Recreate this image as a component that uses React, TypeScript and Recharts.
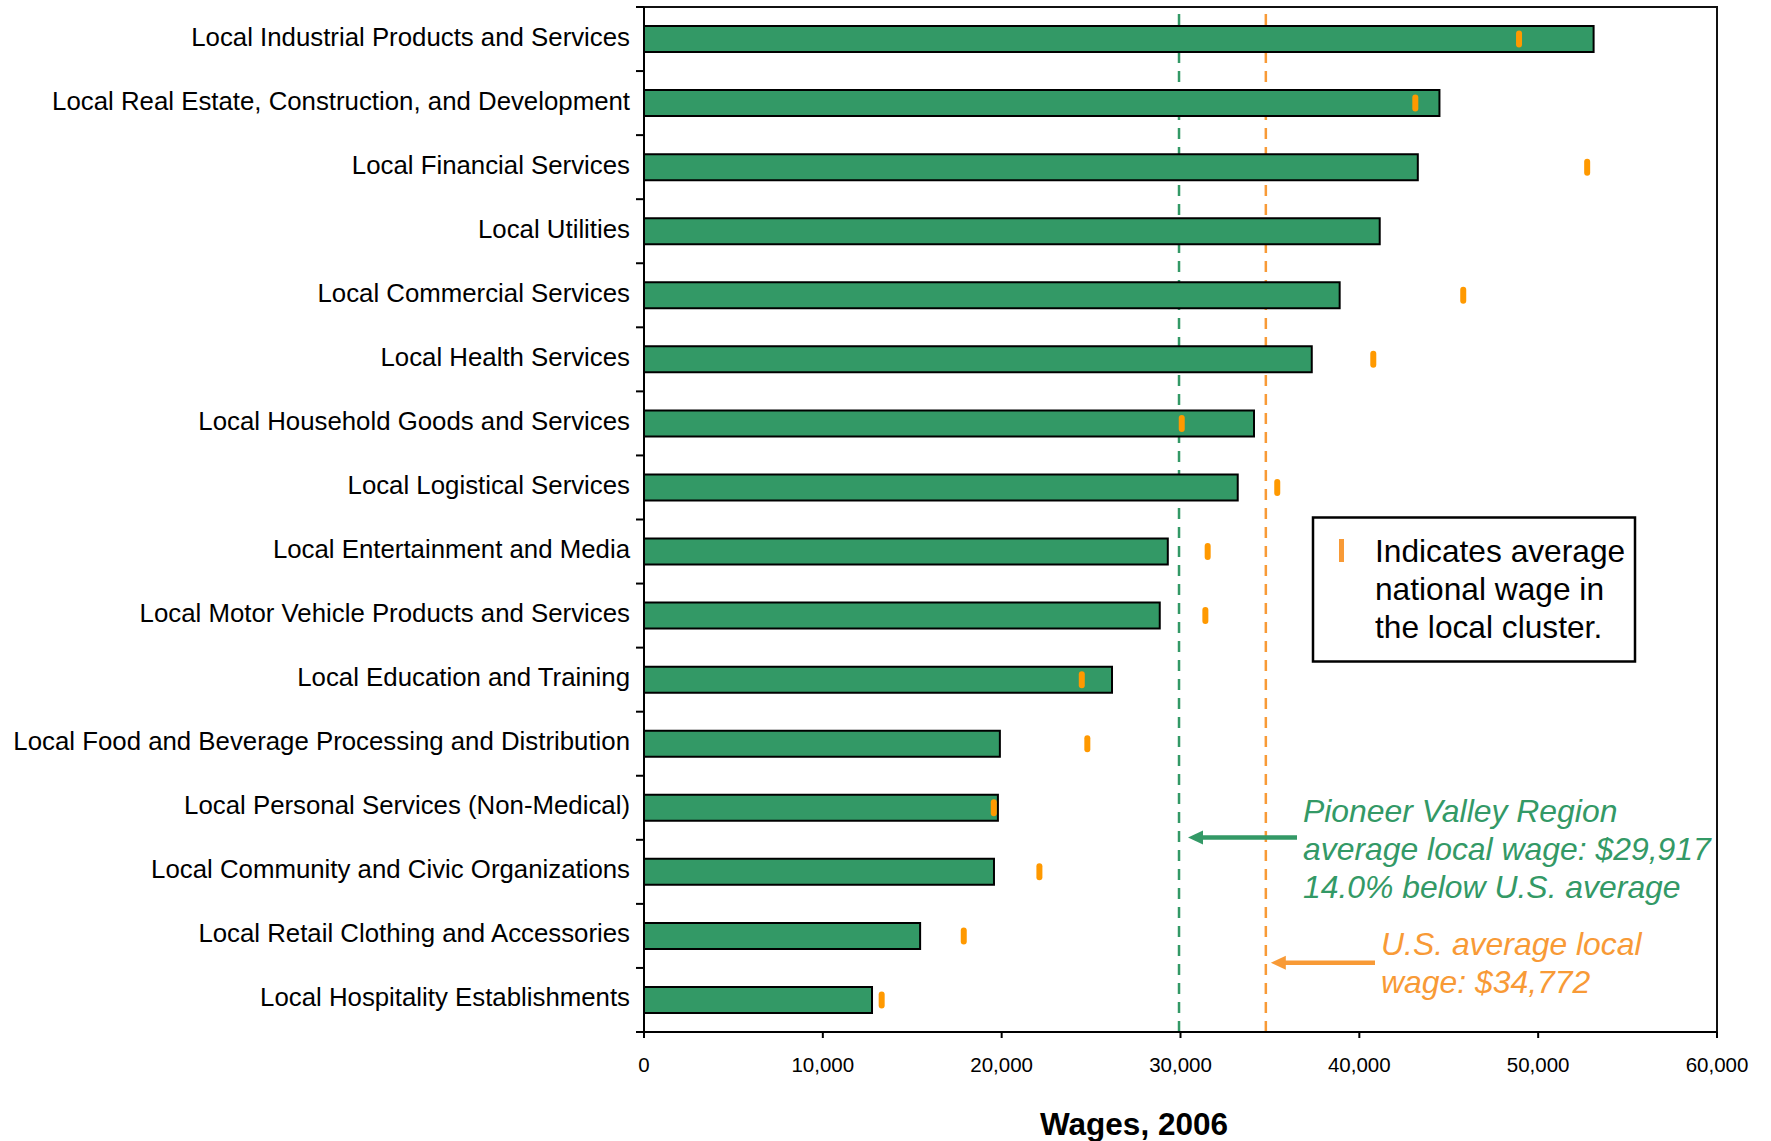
import { ComposedChart, Bar, Line, XAxis, YAxis, ReferenceLine, ReferenceArea } from 'recharts'

const categories = [
  'Local Industrial Products and Services',
  'Local Real Estate, Construction, and Development',
  'Local Financial Services',
  'Local Utilities',
  'Local Commercial Services',
  'Local Health Services',
  'Local Household Goods and Services',
  'Local Logistical Services',
  'Local Entertainment and Media',
  'Local Motor Vehicle Products and Services',
  'Local Education and Training',
  'Local Food and Beverage Processing and Distribution',
  'Local Personal Services (Non-Medical)',
  'Local Community and Civic Organizations',
  'Local Retail Clothing and Accessories',
  'Local Hospitality Establishments',
]

// Pioneer Valley average wage per local cluster
const regionWages = [53100, 44480, 43270, 41140, 38900, 37340, 34110, 33200, 29290, 28840, 26170, 19900, 19790, 19570, 15440, 12750]
// national average wage in the same cluster (none shown for utilities)
const nationalWages = [48930, 43130, 52740, null, 45810, 40780, 30070, 35410, 31520, 31390, 24480, 24790, 19560, 22110, 17880, 13290]

const xTicks = [0, 10000, 20000, 30000, 40000, 50000, 60000]
const regionAverage = 29917
const usAverage = 34772

const data = categories.map((name, i) => ({
  name,
  region: regionWages[i],
  national: nationalWages[i],
}))

const W = 1771
const H = 1141
const PLOT_LEFT = 644
const PLOT_RIGHT = 1717
const PLOT_TOP = 7
const PLOT_BOTTOM = 1032
const PLOT_W = PLOT_RIGHT - PLOT_LEFT
const PLOT_H = PLOT_BOTTOM - PLOT_TOP
const X_MAX = 60000

const FONT = '"Liberation Sans", Arial, Helvetica, sans-serif'
const GREEN = '#339966'
const ORANGE = '#F89A36'
const MARKER = '#FF9900'

const xPx = (v: number) => PLOT_LEFT + (v / X_MAX) * PLOT_W

// eslint-disable-next-line @typescript-eslint/no-explicit-any
function CategoryTick(props: any) {
  const { y, payload, index } = props
  const band = PLOT_H / categories.length
  return (
    <g>
      <text x={PLOT_LEFT - 14} y={y} dy={6.5} textAnchor="end" fontSize={25.8} fontFamily={FONT} fill="#000">
        {payload.value}
      </text>
      <line x1={PLOT_LEFT - 8} x2={PLOT_LEFT} y1={y - band / 2} y2={y - band / 2} stroke="#000" strokeWidth={2} />
      {index === categories.length - 1 && (
        <line x1={PLOT_LEFT - 8} x2={PLOT_LEFT} y1={y + band / 2} y2={y + band / 2} stroke="#000" strokeWidth={2} />
      )}
    </g>
  )
}

// eslint-disable-next-line @typescript-eslint/no-explicit-any
function WageMarker(props: any) {
  const { cx, cy, value } = props
  if (value == null || cx == null || cy == null) return <g />
  return <rect x={cx - 3} y={cy - 8.5} width={6} height={17} rx={3} fill={MARKER} />
}

function Arrow({ from, to, y, color }: { from: number, to: number, y: number, color: string }) {
  return (
    <g>
      <line x1={from} x2={to + 12} y1={y} y2={y} stroke={color} strokeWidth={4.5} />
      <polygon points={`${to},${y} ${to + 15},${y - 7} ${to + 15},${y + 7}`} fill={color} />
    </g>
  )
}

export default function App() {
  return (
    <div style={{ position: 'relative', width: W, height: H, background: '#fff' }}>
      <style>{'body{margin:0}'}</style>
      <ComposedChart
        layout="vertical"
        width={W}
        height={H}
        data={data}
        margin={{ top: PLOT_TOP, right: W - PLOT_RIGHT, left: 0, bottom: 0 }}
      >
        <XAxis
          type="number"
          domain={[0, X_MAX]}
          ticks={xTicks}
          height={H - PLOT_BOTTOM}
          tickFormatter={(v: number) => v.toLocaleString('en-US')}
          tick={{ fill: '#000', fontSize: 20.5, fontFamily: FONT }}
          axisLine={{ stroke: '#000', strokeWidth: 2 }}
          tickLine={{ stroke: '#000', strokeWidth: 2 }}
          tickSize={6}
          tickMargin={19}
        />
        <YAxis
          type="category"
          dataKey="name"
          width={PLOT_LEFT}
          interval={0}
          tick={<CategoryTick />}
          tickLine={false}
          axisLine={{ stroke: '#000', strokeWidth: 2 }}
        />
        <ReferenceLine x={regionAverage} stroke={GREEN} strokeWidth={2.5} strokeDasharray="11 8" zIndex={-10} />
        <ReferenceLine x={usAverage} stroke={ORANGE} strokeWidth={2.5} strokeDasharray="11 8" zIndex={-10} />
        <Bar dataKey="region" barSize={26} fill={GREEN} stroke="#000" strokeWidth={2} isAnimationActive={false} />
        <Line
          dataKey="national"
          stroke="none"
          dot={(p: any) => <WageMarker key={p.index} {...p} />}
          activeDot={false}
          legendType="none"
          isAnimationActive={false}
        />
        <ReferenceArea x1={0} x2={X_MAX} fill="none" stroke="#111" strokeWidth={2} />
      </ComposedChart>

      <svg width={W} height={H} style={{ position: 'absolute', left: 0, top: 0, pointerEvents: 'none' }} fontFamily={FONT}>
        <rect x={1313} y={517.5} width={322} height={144} fill="#fff" stroke="#000" strokeWidth={2.5} />
        <rect x={1339} y={539} width={5} height={23} fill={ORANGE} />
        <text fontSize={31.7} fill="#000">
          <tspan x={1375} y={561.7}>Indicates average</tspan>
          <tspan x={1375} y={600}>national wage in</tspan>
          <tspan x={1375} y={638.3}>the local cluster.</tspan>
        </text>

        <text fontSize={31.9} fill={GREEN} fontStyle="italic">
          <tspan x={1303} y={821.7}>Pioneer Valley Region</tspan>
          <tspan x={1303} y={860}>average local wage: $29,917</tspan>
          <tspan x={1303} y={898.3}>14.0% below U.S. average</tspan>
        </text>
        <Arrow from={1297} to={xPx(regionAverage) + 9} y={837.5} color={GREEN} />

        <text fontSize={31.9} fill={ORANGE} fontStyle="italic">
          <tspan x={1381} y={955}>U.S. average local</tspan>
          <tspan x={1381} y={992.7}>wage: $34,772</tspan>
        </text>
        <Arrow from={1375} to={xPx(usAverage) + 5} y={962.7} color={ORANGE} />

        <text x={1134} y={1135} textAnchor="middle" fontSize={31.5} fontWeight="bold" fill="#000">
          Wages, 2006
        </text>
      </svg>
    </div>
  )
}
